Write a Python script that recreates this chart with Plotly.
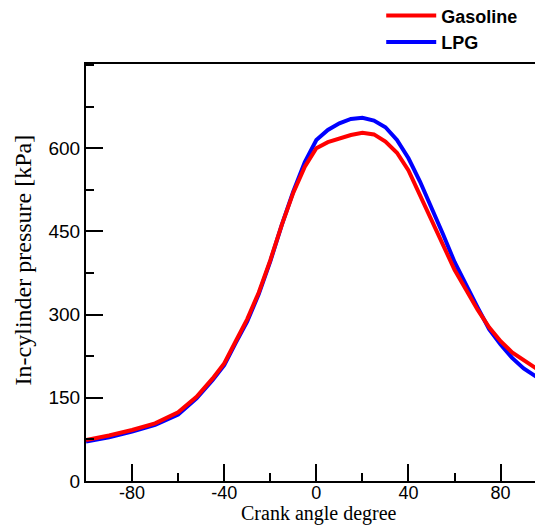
import plotly.graph_objects as go

# crank angle (deg) and in-cylinder pressure (kPa)
crank_angle = [-100, -90, -80, -70, -60, -52, -45, -40, -35, -30, -25, -20, -15,
               -10, -5, 0, 5, 10, 15, 20, 25, 30, 35, 40, 45, 50, 55, 60, 65,
               70, 75, 80, 85, 90, 98.4]
p_gasoline = [74, 82, 92, 104, 124, 152, 185, 212, 252, 292, 340, 398, 462,
              520, 567, 600, 611, 618, 624, 628, 625, 612, 592, 560, 515, 470,
              422, 381, 345, 309, 277, 252, 232, 218, 195]
p_lpg = [71, 79, 89, 101, 120, 149, 182, 209, 249, 288, 337, 396, 462,
         522, 575, 615, 633, 645, 653, 655, 650, 638, 615, 582, 540, 494,
         445, 395, 352, 313, 274, 246, 222, 203, 180]

x_ticks = [-80, -40, 0, 40, 80]
x_labels = ['-80', '-40', '0', '40', '80']
y_ticks = [0, 150, 300, 450, 600]

fig = go.Figure()
fig.add_trace(go.Scatter(x=crank_angle, y=p_lpg, name='LPG', mode='lines',
                         line=dict(color='#0000ff', width=4)))
fig.add_trace(go.Scatter(x=crank_angle, y=p_gasoline, name='Gasoline', mode='lines',
                         line=dict(color='#ff0000', width=4)))

tick_font = dict(family='Liberation Sans, Arial', size=19, color='black')

# page body has an 8px margin, so the figure is sized 8px smaller
fig.update_layout(
    width=535, height=517,
    margin=dict(l=78, r=0, t=56, b=44, autoexpand=False),
    plot_bgcolor='white', paper_bgcolor='white',
    showlegend=True,
    legend=dict(x=0.646, y=1.16, xanchor='left', yanchor='top',
                traceorder='reversed',
                font=dict(family='Liberation Sans, Arial', size=18, color='black',
                          weight='bold'),
                bgcolor='rgba(0,0,0,0)', itemwidth=50),
    xaxis=dict(range=[-100, 98.4], tickvals=x_ticks, ticktext=x_labels,
               showgrid=False, zeroline=False,
               showline=True, linecolor='black', linewidth=2, mirror=True,
               ticks='inside', ticklen=17, tickwidth=2, tickcolor='black',
               tickfont=dict(family='Liberation Sans, Arial', size=18, color='black'),
               ticklabelstandoff=-6,
               minor=dict(dtick=20, tick0=0, ticks='inside', ticklen=8,
                          tickwidth=2, tickcolor='black')),
    yaxis=dict(range=[0, 752], tickvals=y_ticks, showgrid=False, zeroline=False,
               showline=True, linecolor='black', linewidth=2,
               ticks='inside', ticklen=17, tickwidth=1.5, tickcolor='black',
               tickfont=tick_font,
               minor=dict(dtick=75, tick0=0, ticks='inside', ticklen=8,
                          tickwidth=2, tickcolor='black')),
    annotations=[
        dict(text='Crank angle degree', xref='paper', yref='paper',
             x=0.51, y=-0.078, xanchor='center', yanchor='middle', showarrow=False,
             font=dict(family='Liberation Serif, Times New Roman', size=20, color='black')),
        dict(text='In-cylinder pressure [kPa]', xref='paper', yref='paper',
             x=-0.137, y=0.53, xanchor='center', yanchor='middle', showarrow=False,
             textangle=-90,
             font=dict(family='Liberation Serif, Times New Roman', size=24, color='black')),
    ],
)

fig.write_html("out.html")
